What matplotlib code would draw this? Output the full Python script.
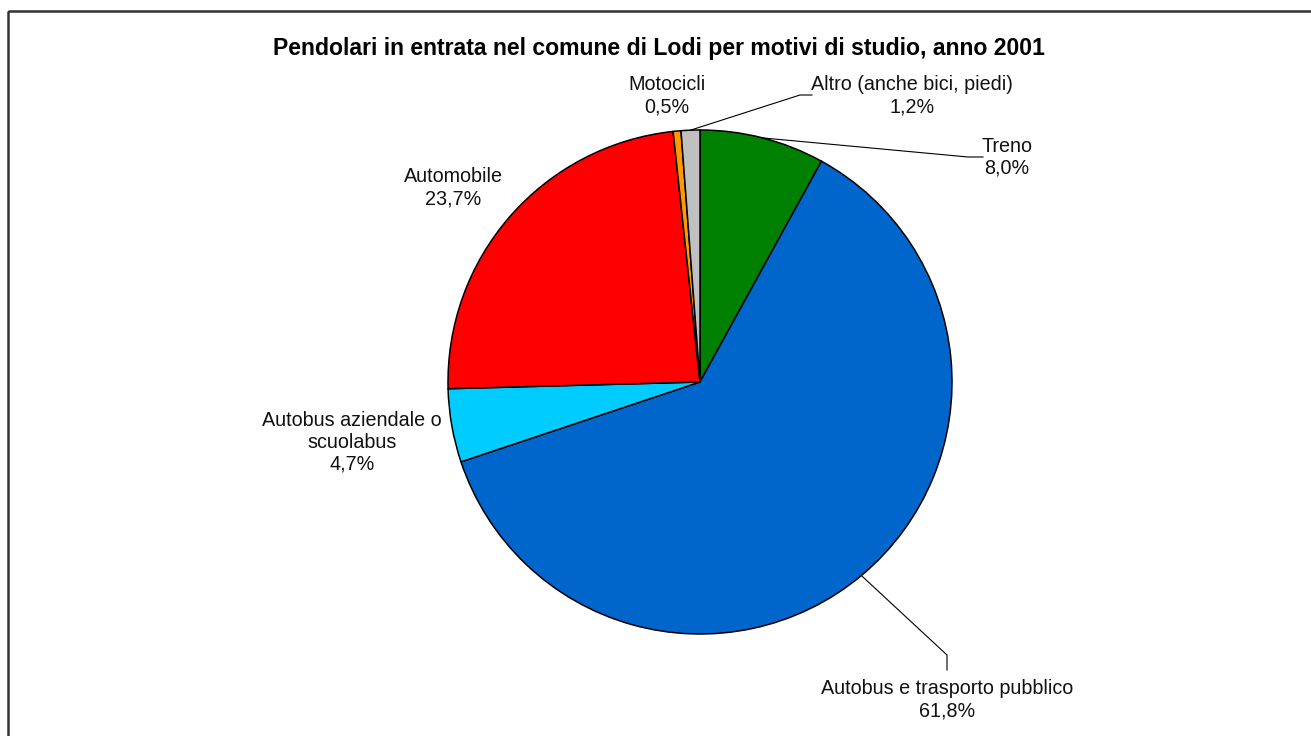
import numpy as np
import matplotlib.pyplot as plt
from matplotlib.patches import Rectangle

plt.rcParams['font.family'] = ['Liberation Sans', 'DejaVu Sans']

# data (clockwise from 12 o'clock)
categories = ["Treno", "Autobus e trasporto pubblico", "Autobus aziendale o\nscuolabus",
              "Automobile", "Motocicli", "Altro (anche bici, piedi)"]
shares = [8.0, 61.8, 4.7, 23.7, 0.5, 1.2]
colors = ["#008000", "#0066CC", "#00CCFF", "#FF0000", "#FF9900", "#C0C0C0"]
title = "Pendolari in entrata nel comune di Lodi per motivi di studio, anno 2001"

# layout, in pixel coordinates (y pointing down)
W, H = 1311, 736
center = (700, 382)
radius = 252
label_pos = [(1007, 157), (947, 700), (352, 442), (453, 188), (667, 96), (912, 96)]
# leader lines: elbow point, end point (None = no line)
leaders = [((968, 157), (983, 157)),
           ((947, 655), (947, 670)),
           None, None, None,
           ((800, 95), (812, 95))]


def fmt(v):
    return ("%.1f%%" % v).replace(".", ",")


fig = plt.figure(figsize=(W / 100, H / 100), dpi=100)
ax = fig.add_axes([0, 0, 1, 1])

# y axis inverted -> counterclock=True draws clockwise on screen
wedges, _ = ax.pie(shares, colors=colors, startangle=-90, counterclock=True,
                   center=center, radius=radius,
                   wedgeprops=dict(edgecolor="black", linewidth=1.1))
ax.set_xlim(0, W)
ax.set_ylim(H, 0)
ax.set_aspect("equal")
ax.axis("off")

for i, w in enumerate(wedges):
    x, y = label_pos[i]
    ax.text(x, y, categories[i] + "\n" + fmt(shares[i]), ha="center", va="center",
            fontsize=14.2, linespacing=1.2, color="#111111")
    if leaders[i] is not None:
        mid = np.deg2rad((w.theta1 + w.theta2) / 2)
        sx = center[0] + radius * np.cos(mid)
        sy = center[1] + radius * np.sin(mid)
        (ex, ey), (fx, fy) = leaders[i]
        ax.plot([sx, ex, fx], [sy, ey, fy], color="black", linewidth=0.8)

ax.text(659, 48, title, ha="center", va="center", fontsize=16.6, fontweight="bold")

# chart area frame
ax.add_patch(Rectangle((8, 11), W, H, fill=False, edgecolor="#333333",
                       linewidth=1.8, clip_on=False))

fig.savefig("out.png", dpi=100)
